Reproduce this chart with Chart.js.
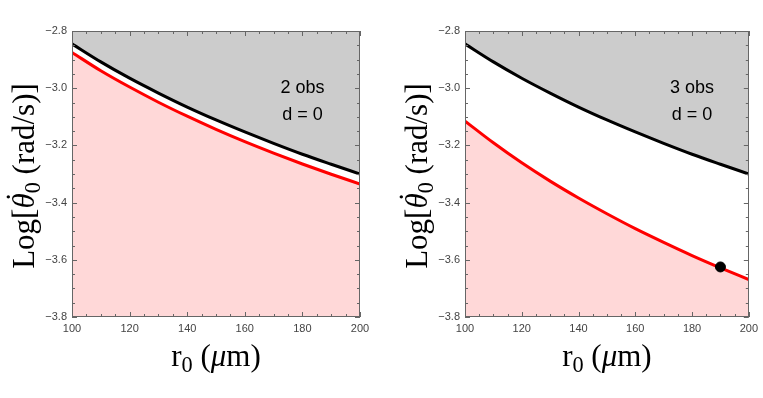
<!DOCTYPE html>
<html>
<head>
<meta charset="utf-8">
<script src="https://cdn.jsdelivr.net/npm/chart.js@4"></script>
<style>
  body { margin: 0; background: #fff; }
  #wrap { position: relative; width: 763px; height: 398px; }
  canvas { position: absolute; top: 0; }
</style>
</head>
<body>
<div id="wrap">
  <canvas id="left" width="393" height="398" style="left:0"></canvas>
  <canvas id="right" width="370" height="398" style="left:393px"></canvas>
</div>
<script>
// values (r0 in um, log of angular speed)
const rValues = [100, 110, 120, 130, 140, 150, 160, 170, 180, 190, 200];
const upperBound = [-2.845, -2.908, -2.965, -3.017, -3.066, -3.111, -3.153, -3.193, -3.231, -3.266, -3.300];
const lowerBound2obs = [-2.875, -2.939, -2.996, -3.049, -3.098, -3.144, -3.187, -3.227, -3.265, -3.301, -3.335];
const lowerBound3obs = [-3.115, -3.191, -3.261, -3.325, -3.384, -3.439, -3.491, -3.539, -3.585, -3.628, -3.669];
const markerPoint3obs = [{ x: 190, y: -3.625 }];

const xTickValues = [100, 120, 140, 160, 180, 200];
const yTickValues = [-3.8, -3.6, -3.4, -3.2, -3.0, -2.8];
const notes2obs = ["2 obs", "d = 0"];
const notes3obs = ["3 obs", "d = 0"];
const notePos = { x: 180, y1: -3.0, y2: -3.095 };

const serif = '"Liberation Serif", "DejaVu Serif", serif';
const sans = '"Liberation Sans", Arial, sans-serif';

// draws a run of text pieces centred on x (mixed fonts, subscripts)
function drawParts(ctx, parts, cx, baseY, size) {
    const fonts = parts.map(p => {
        if (p[1] === 'sub') return (0.72 * size) + 'px ' + serif;
        if (p[1] === 'it') return 'italic ' + size + 'px ' + serif;
        return size + 'px ' + serif;
    });
    let total = 0;
    parts.forEach((p, i) => { ctx.font = fonts[i]; total += ctx.measureText(p[0]).width; });
    let px = cx - total / 2;
    ctx.textAlign = 'left';
    ctx.textBaseline = 'alphabetic';
    parts.forEach((p, i) => {
        ctx.font = fonts[i];
        const w = ctx.measureText(p[0]).width;
        const dy = p[1] === 'sub' ? 0.2 * size : 0;
        ctx.fillText(p[0], px, baseY + dy);
        if (p[2] === 'dot') {
            ctx.textAlign = 'center';
            ctx.fillText('\u02D9', px + w / 2 + 2, baseY - 0.2 * size);
            ctx.textAlign = 'left';
        }
        px += w;
    });
}

const panelDeco = {
    id: 'panelDeco',
    afterDatasetsDraw(chart) {
        const { ctx, chartArea: a, scales: { x, y } } = chart;
        ctx.save();
        // frame
        ctx.strokeStyle = '#666';
        ctx.lineWidth = 1;
        ctx.strokeRect(Math.round(a.left) + 0.5, Math.round(a.top) + 0.5,
            Math.round(a.right - a.left) - 1, Math.round(a.bottom - a.top) - 1);
        // inward ticks on all four sides
        ctx.beginPath();
        for (let v = 100; v <= 200; v += 5) {
            const len = (v % 20 === 0) ? 5 : 3;
            const px = Math.round(x.getPixelForValue(v)) + 0.5;
            ctx.moveTo(px, a.bottom); ctx.lineTo(px, a.bottom - len);
            ctx.moveTo(px, a.top); ctx.lineTo(px, a.top + len);
        }
        for (let i = 0; i <= 20; i++) {
            const v = -3.8 + i * 0.05;
            const len = (i % 4 === 0) ? 5 : 3;
            const py = Math.round(y.getPixelForValue(v)) + 0.5;
            ctx.moveTo(a.left, py); ctx.lineTo(a.left + len, py);
            ctx.moveTo(a.right, py); ctx.lineTo(a.right - len, py);
        }
        ctx.stroke();
        ctx.restore();
    },
    afterDraw(chart, args, opts) {
        const { ctx, chartArea: a, scales: { x, y } } = chart;
        ctx.save();
        ctx.fillStyle = '#000';
        // annotation text
        ctx.font = '18px ' + sans;
        ctx.textAlign = 'center';
        ctx.textBaseline = 'middle';
        ctx.fillText(opts.notes[0], x.getPixelForValue(notePos.x), y.getPixelForValue(notePos.y1));
        ctx.fillText(opts.notes[1], x.getPixelForValue(notePos.x), y.getPixelForValue(notePos.y2));
        // x title
        drawParts(ctx, [['r', 'n'], ['0', 'sub'], [' (', 'n'], ['\u03BC', 'it'], ['m)', 'n']],
            (a.left + a.right) / 2, 366, 31);
        // y title, rotated
        ctx.translate(a.left - 38, (a.top + a.bottom) / 2 + 2);
        ctx.rotate(-Math.PI / 2);
        drawParts(ctx, [['Log[', 'n'], ['\u03B8', 'it', 'dot'], ['0', 'sub'], [' (rad/s)]', 'n']],
            0, 0, 31);
        ctx.restore();
    }
};

function makePanel(canvasId, lower, notes, marker, padRight) {
    const sets = [];
    if (marker) {
        sets.push({
            type: 'scatter', data: marker, pointRadius: 5,
            backgroundColor: '#000', borderColor: '#000'
        });
    }
    sets.push({
        data: rValues.map((r, i) => ({ x: r, y: upperBound[i] })),
        borderColor: '#000', borderWidth: 3, pointRadius: 0,
        fill: 'end', backgroundColor: '#cccccc',
        cubicInterpolationMode: 'monotone'
    });
    sets.push({
        data: rValues.map((r, i) => ({ x: r, y: lower[i] })),
        borderColor: '#ff0000', borderWidth: 3, pointRadius: 0,
        fill: 'start', backgroundColor: 'rgb(255,216,216)',
        cubicInterpolationMode: 'monotone'
    });

    return new Chart(document.getElementById(canvasId), {
        type: 'line',
        data: { datasets: sets },
        options: {
            responsive: false,
            animation: false,
            layout: { padding: { left: 0, right: padRight, top: 31, bottom: 0 } },
            plugins: {
                legend: { display: false },
                tooltip: { enabled: false },
                panelDeco: { notes: notes }
            },
            scales: {
                x: {
                    type: 'linear', min: 100, max: 200,
                    grid: { display: false, drawTicks: false },
                    border: { display: false },
                    ticks: { color: '#444', font: { family: sans, size: 11 }, padding: 5, maxRotation: 0 },
                    afterBuildTicks: s => { s.ticks = xTickValues.map(v => ({ value: v })); },
                    afterFit: s => { s.height = 81; }
                },
                y: {
                    min: -3.8, max: -2.8,
                    grid: { display: false, drawTicks: false },
                    border: { display: false },
                    ticks: {
                        color: '#444', font: { family: sans, size: 11 }, padding: 5,
                        callback: v => v.toFixed(1).replace('-', '\u2212')
                    },
                    afterBuildTicks: s => { s.ticks = yTickValues.map(v => ({ value: v })); },
                    afterFit: s => { s.width = 72; }
                }
            }
        },
        plugins: [panelDeco]
    });
}

makePanel('left', lowerBound2obs, notes2obs, null, 33);
makePanel('right', lowerBound3obs, notes3obs, markerPoint3obs, 10);
</script>
</body>
</html>
